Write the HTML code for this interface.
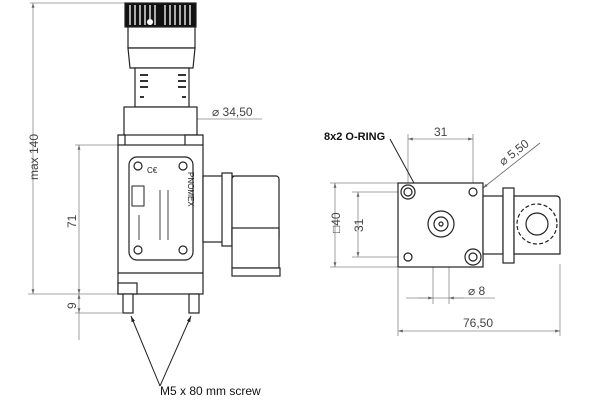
<!DOCTYPE html>
<html><head><meta charset="utf-8"><style>html,body{margin:0;padding:0;background:#fff}svg{display:block}</style></head><body>
<svg width="600" height="412" viewBox="0 0 600 412" xmlns="http://www.w3.org/2000/svg" font-family="Liberation Sans, sans-serif">
<defs>
<marker id="a" viewBox="0 0 10 10" refX="10" refY="5" markerWidth="8" markerHeight="6" orient="auto-start-reverse"><path d="M0,2 L10,5 L0,8z" fill="#666"/></marker>
<marker id="b" viewBox="0 0 10 10" refX="10" refY="5" markerWidth="8" markerHeight="6" orient="auto"><path d="M0,2 L10,5 L0,8z" fill="#222"/></marker>
</defs>
<g stroke="#888" stroke-width="0.8" fill="none">
<!-- left dims -->
<line x1="30" y1="3" x2="125" y2="3"/>
<line x1="33" y1="3" x2="33" y2="294" marker-start="url(#a)" marker-end="url(#a)"/>
<line x1="75" y1="145" x2="118" y2="145"/>
<line x1="28" y1="294" x2="122" y2="294"/>
<line x1="79" y1="145" x2="79" y2="294" marker-start="url(#a)" marker-end="url(#a)"/>
<line x1="75" y1="313" x2="122" y2="313"/>
<line x1="79" y1="294" x2="79" y2="340"/>
<line x1="79" y1="300" x2="79" y2="294" marker-end="url(#a)"/>
<line x1="79" y1="307" x2="79" y2="313" marker-end="url(#a)"/>
<line x1="128" y1="119" x2="262" y2="119"/>
<line x1="150" y1="119" x2="127" y2="119" marker-end="url(#a)"/>
<line x1="170" y1="119" x2="194" y2="119" marker-end="url(#a)"/>
<!-- right dims -->
<line x1="408" y1="134" x2="408" y2="186"/>
<line x1="473" y1="134" x2="473" y2="186"/>
<line x1="408" y1="139" x2="473" y2="139" marker-start="url(#a)" marker-end="url(#a)"/>
<line x1="330" y1="183" x2="398" y2="183"/>
<line x1="330" y1="267" x2="398" y2="267"/>
<line x1="335" y1="183" x2="335" y2="267" marker-start="url(#a)" marker-end="url(#a)"/>
<line x1="352" y1="192" x2="405" y2="192"/>
<line x1="352" y1="257" x2="405" y2="257"/>
<line x1="358" y1="192" x2="358" y2="257" marker-start="url(#a)" marker-end="url(#a)"/>
<line x1="433" y1="226" x2="433" y2="304"/>
<line x1="449" y1="226" x2="449" y2="304"/>
<line x1="406" y1="298" x2="495" y2="298"/>
<line x1="418" y1="298" x2="433" y2="298" marker-end="url(#a)"/>
<line x1="464" y1="298" x2="449" y2="298" marker-end="url(#a)"/>
<line x1="398" y1="268" x2="398" y2="336"/>
<line x1="560" y1="264" x2="560" y2="336"/>
<line x1="398" y1="331" x2="560" y2="331" marker-start="url(#a)" marker-end="url(#a)"/>
<line x1="540" y1="143" x2="483" y2="188" marker-end="url(#a)" stroke="#666"/>
</g>
<g stroke="#222" stroke-width="1" fill="none">
<line x1="390" y1="139" x2="432" y2="216" marker-end="url(#b)"/>
<line x1="160" y1="386" x2="131" y2="316" marker-end="url(#b)"/>
<line x1="160" y1="386" x2="191" y2="316" marker-end="url(#b)"/>
</g>
<!-- left object -->
<g stroke="#222" stroke-width="1.2" fill="#fff">
<rect x="125" y="3" width="71" height="24" fill="#111"/>
<g stroke="#fff" stroke-width="1.3">
<line x1="130" y1="5" x2="130" y2="25"/><line x1="135" y1="5" x2="135" y2="25"/><line x1="140" y1="5" x2="140" y2="25"/><line x1="145" y1="5" x2="145" y2="25"/><line x1="150" y1="5" x2="150" y2="25"/><line x1="155" y1="5" x2="155" y2="25"/><line x1="165" y1="5" x2="165" y2="25"/><line x1="170" y1="5" x2="170" y2="25"/><line x1="175" y1="5" x2="175" y2="25"/><line x1="180" y1="5" x2="180" y2="25"/><line x1="185" y1="5" x2="185" y2="25"/><line x1="190" y1="5" x2="190" y2="25"/>
</g>
<circle cx="150" cy="22" r="3" fill="#fff" stroke="none"/>
<rect x="128" y="27" width="67" height="21"/>
<path d="M128,48 L195,48 L193,68 L130,68z"/>
<rect x="135" y="68" width="54" height="39"/>
<rect x="124" y="107" width="73" height="28"/>
<path d="M118,145 L118,135 L125,135 L125,145 M185,145 L185,135 L203,135 L203,145"/>
<rect x="118" y="145" width="85" height="149"/>
<line x1="118" y1="273" x2="203" y2="273"/>
<rect x="118" y="283" width="19" height="11"/>
<rect x="123" y="294" width="10" height="19"/>
<rect x="189" y="294" width="10" height="19"/>
<rect x="129" y="157" width="64" height="103" rx="8"/>
<circle cx="138" cy="166" r="4"/><circle cx="183" cy="166" r="4"/>
<circle cx="138" cy="250" r="4"/><circle cx="183" cy="250" r="4"/>
<!-- connector -->
<rect x="203" y="176" width="30" height="66"/>
<rect x="222" y="173" width="10" height="73"/>
<rect x="232" y="176" width="47" height="66" rx="3"/>
<rect x="232" y="228" width="47" height="40"/>
<rect x="232" y="268" width="48" height="8"/>
</g>
<g fill="#222" font-size="5">
<text x="147" y="173" font-size="8">C€</text>
<text x="148" y="188" font-size="8" transform="rotate(90 176 200)">PNOMEX</text>
<rect x="132" y="186" width="12" height="20" fill="none" stroke="#222"/>
<g stroke="#444" stroke-width="1"><line x1="160" y1="190" x2="160" y2="240"/><line x1="168" y1="190" x2="168" y2="240"/><line x1="139" y1="215" x2="139" y2="240"/></g>
<g stroke="#333" stroke-width="2"><line x1="140" y1="75" x2="148" y2="75"/><line x1="140" y1="81" x2="148" y2="81"/><line x1="140" y1="87" x2="148" y2="87"/><line x1="178" y1="75" x2="186" y2="75"/><line x1="178" y1="81" x2="186" y2="81"/><line x1="178" y1="87" x2="186" y2="87"/><line x1="140" y1="97" x2="144" y2="97"/><line x1="182" y1="97" x2="186" y2="97"/></g>
</g>
<!-- right object -->
<g stroke="#222" stroke-width="1.2" fill="#fff">
<rect x="398" y="183" width="85" height="84"/>
<circle cx="441" cy="224" r="13"/><circle cx="441" cy="224" r="7"/><circle cx="441" cy="224" r="2"/>
<circle cx="408" cy="192" r="7"/><circle cx="408" cy="192" r="4"/>
<circle cx="473" cy="192" r="4"/>
<circle cx="408" cy="257" r="4"/>
<circle cx="473" cy="257" r="8"/><circle cx="473" cy="257" r="4"/>
<rect x="483" y="196" width="20" height="58"/>
<rect x="503" y="188" width="11" height="75"/>
<path d="M514,196 L556,196 Q560,196 560,200 L560,254 L514,254z"/>
<circle cx="537" cy="224" r="20" stroke-dasharray="4 2.3"/>
<circle cx="537" cy="224" r="11"/>
</g>
<!-- text -->
<g fill="#444" font-size="12">
<text x="212" y="116">⌀ 34,50</text>
<text transform="translate(38 180) rotate(-90)">max 140</text>
<text transform="translate(76 228) rotate(-90)">71</text>
<text transform="translate(76 309) rotate(-90)">9</text>
<text x="434" y="136">31</text>
<text transform="translate(340 233) rotate(-90)">□40</text>
<text transform="translate(363 232) rotate(-90)">31</text>
<text x="468" y="295">⌀ 8</text>
<text x="463" y="327">76,50</text>
<text transform="translate(503 166) rotate(-38)">⌀ 5,50</text>
</g>
<text x="160" y="395" font-size="12" fill="#111">M5 x 80 mm screw</text>
<text x="324" y="140" font-size="11" fill="#111" font-weight="bold">8x2 O-RING</text>
</svg>
</body></html>
